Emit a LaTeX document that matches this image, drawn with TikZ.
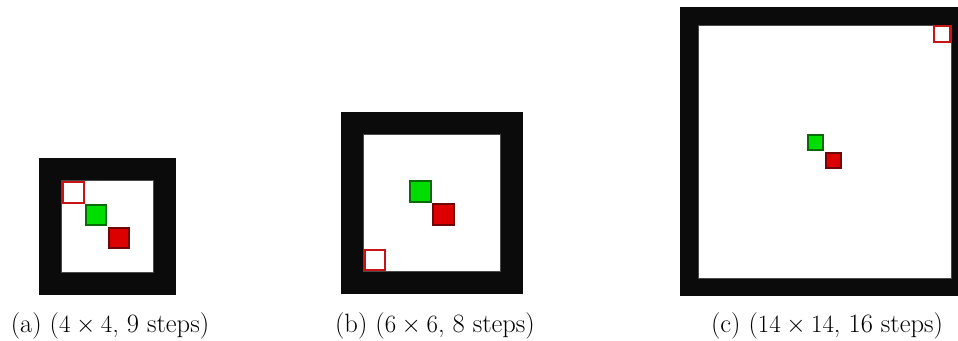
\documentclass[tikz,border=0pt]{standalone}
\usepackage{amsmath}

\definecolor{wallblack}{HTML}{0B0B0B}
\definecolor{floorline}{HTML}{4A4A4A}
\definecolor{agentgreen}{HTML}{00DD00}
\definecolor{agentdark}{HTML}{0A6A0A}
\definecolor{goalred}{HTML}{DD0000}
\definecolor{goaldark}{HTML}{6E0808}
\definecolor{startred}{HTML}{C81414}

\begin{document}
\begin{tikzpicture}[
  x=1pt, y=-1pt,
  wallcell/.style={fill=wallblack},
  floorcell/.style={fill=white, draw=floorline, line width=0.8pt},
  startcell/.style={fill=white, draw=startred, line width=2pt},
  agentcell/.style={fill=agentgreen, draw=agentdark, line width=2pt},
  goalcell/.style={fill=goalred, draw=goaldark, line width=2pt},
  caption/.style={font=\fontsize{26.5}{31}\selectfont, anchor=base, inner sep=0pt}]

  \useasboundingbox (0,0) rectangle (958,340);
  \clip (0,0) rectangle (958,340);

  % (a) 4x4 room, one cell of wall all round
  \begin{scope}[shift={(39,158)}, x=22.83pt, y=-22.83pt]
    \fill[wallcell] (0,0) rectangle (6,6);
    \draw[floorcell] (1,1) rectangle (5,5);
    \draw[startcell] (1.05,1.05) rectangle (1.95,1.95);
    \draw[agentcell] (2.05,2.05) rectangle (2.95,2.95);
    \draw[goalcell]  (3.05,3.05) rectangle (3.95,3.95);
  \end{scope}

  % (b) 6x6 room
  \begin{scope}[shift={(341,112)}, x=22.75pt, y=-22.75pt]
    \fill[wallcell] (0,0) rectangle (8,8);
    \draw[floorcell] (1,1) rectangle (7,7);
    \draw[startcell] (1.05,6.05) rectangle (1.95,6.95);
    \draw[agentcell] (3.05,3.05) rectangle (3.95,3.95);
    \draw[goalcell]  (4.05,4.05) rectangle (4.95,4.95);
  \end{scope}

  % (c) 14x14 room, runs past the right edge
  \begin{scope}[shift={(680,7)}, x=18.06pt, y=-18.06pt]
    \fill[wallcell] (0,0) rectangle (16,16);
    \draw[floorcell] (1,1) rectangle (15,15);
    \draw[startcell] (14.06,1.06) rectangle (14.94,1.94);
    \draw[agentcell] (7.06,7.06) rectangle (7.94,7.94);
    \draw[goalcell]  (8.06,8.06) rectangle (8.94,8.94);
  \end{scope}

  \node[caption] (capa) at (110,332) {(a) ($4\times4$, 9 steps)};
  \node[caption] (capb) at (435,332) {(b) ($6\times6$, 8 steps)};
  \node[caption] (capc) at (827,332) {(c) ($14\times14$, 16 steps)};

\end{tikzpicture}
\end{document}
